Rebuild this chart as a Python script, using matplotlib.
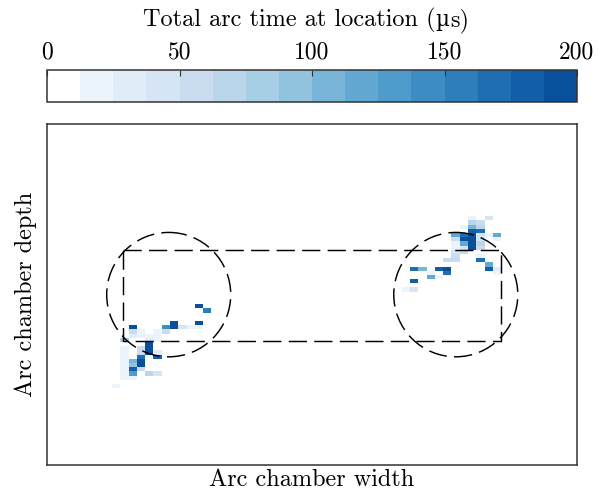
import numpy as np
import matplotlib
matplotlib.use("Agg")
import matplotlib.pyplot as plt
from matplotlib.colors import ListedColormap, BoundaryNorm
from matplotlib.patches import Ellipse, Rectangle
from matplotlib.offsetbox import TextArea, HPacker, AnchoredOffsetbox

plt.rcParams['font.family'] = ['cmr10', 'DejaVu Serif']
plt.rcParams['mathtext.fontset'] = 'cm'
plt.rcParams['axes.unicode_minus'] = False

# histogram grid (cells), column/row index of every non-empty cell and its arc time (us)
n_cols = 64
n_rows = 82
cell_cols = [18, 19, 18, 15, 15, 14, 16, 17, 18, 14, 13, 13, 13, 10, 10, 10, 11, 11,
             9, 12, 12, 12, 12, 12, 13, 13, 11, 11, 11, 11, 11, 10, 10, 10, 10,
             11, 12, 13, 9, 9, 9, 9, 9, 9, 9, 9, 10, 8,
             51, 53, 51, 52, 50, 51, 52, 51, 52, 49, 50, 51, 52, 53, 54,
             49, 50, 51, 52, 54, 49, 50, 51, 52, 49, 50, 51, 52, 49, 50, 49, 52,
             48, 49, 52, 53, 53, 54, 54,
             44, 45, 47, 48, 48, 46, 46, 47, 44, 43, 44]
cell_rows = [43, 44, 47, 47, 48, 48, 48, 48, 48, 49, 49, 50, 51, 48, 49, 50, 49, 50,
             51, 50, 51, 52, 53, 54, 55, 54, 53, 54, 55, 56, 57, 56, 57, 58, 59,
             58, 59, 59, 53, 54, 55, 56, 57, 58, 59, 60, 60, 62,
             22, 22, 23, 23, 24, 24, 24, 25, 25, 26, 26, 26, 26, 26, 26,
             27, 27, 27, 27, 27, 28, 28, 28, 28, 29, 29, 29, 29, 30, 30, 31, 31,
             32, 32, 32, 33, 34, 34, 35,
             34, 34, 34, 34, 35, 35, 36, 36, 37, 39, 39]
cell_vals = [190, 160, 190, 200, 200, 140, 40, 15, 20, 60, 20, 20, 15, 190, 60, 25, 15, 15,
             80, 15, 25, 200, 200, 190, 180, 30, 60, 60, 170, 200, 200, 100, 90, 180, 130,
             50, 70, 40, 15, 15, 15, 15, 15, 15, 15, 15, 15, 15,
             20, 40, 70, 50, 20, 110, 70, 180, 170, 120, 170, 200, 40, 15, 120,
             60, 190, 200, 40, 20, 15, 120, 200, 70, 15, 40, 200, 50, 40, 50, 60, 15,
             50, 60, 170, 120, 180, 30, 20,
             170, 100, 180, 190, 170, 15, 120, 15, 180, 20, 40]

# chamber outline (grid units)
rect_x = [9.36, 54.98]
rect_y = [29.98, 51.67]
circle_x = [14.85, 49.52]
circle_y = 40.7
circle_w = 14.98
circle_h = 29.67

levels = np.linspace(0, 200, 17)
colors = plt.get_cmap('Blues')(np.linspace(0, 0.875, 16))
colors[0] = [1, 1, 1, 1]
cmap = ListedColormap(colors)
norm = BoundaryNorm(levels, cmap.N)

grid = np.zeros((n_rows, n_cols))
for c, r, v in zip(cell_cols, cell_rows, cell_vals):
    grid[r, c] = v

fig = plt.figure(figsize=(6.11, 4.97), dpi=100)
ax = fig.add_axes([47 / 611, 1 - 465 / 497, 530 / 611, 341 / 497])
cax = fig.add_axes([47 / 611, 1 - 102 / 497, 530 / 611, 32 / 497])

mesh = ax.pcolormesh(np.arange(n_cols + 1), np.arange(n_rows + 1), grid, cmap=cmap, norm=norm)
ax.set_xlim(0.15, 0.15 + 530 / 8.28)
ax.set_ylim(340 / 4.18, 0)
ax.set_xticks([])
ax.set_yticks([])
for s in ax.spines.values():
    s.set_color('#333333')
    s.set_linewidth(1.1)

dash = (0, (12.5, 5))
ax.add_patch(Rectangle((rect_x[0], rect_y[0]), rect_x[1] - rect_x[0], rect_y[1] - rect_y[0],
                       fill=False, ec='black', lw=1.05, ls=dash))
for cx in circle_x:
    ax.add_patch(Ellipse((cx, circle_y), circle_w, circle_h, fill=False, ec='black', lw=1.05, ls=dash))

ax.set_xlabel('Arc chamber width', fontsize=17.5, labelpad=3)
ax.set_ylabel('Arc chamber depth', fontsize=17.5, labelpad=7)

cb = fig.colorbar(mesh, cax=cax, orientation='horizontal', ticks=[0, 50, 100, 150, 200])
cb.minorticks_off()
cb.outline.set_edgecolor('#333333')
cb.outline.set_linewidth(1.1)
cax.xaxis.set_ticks_position('top')
cax.tick_params(axis='x', direction='in', length=4, labelsize=17, pad=5, color='#333333')
cax.set_xticklabels(['0', '50', '100', '150', '200'])

# colorbar title, the micro sign taken from DejaVu Serif (cmr10 has none)
tp = dict(family='cmr10', size=17.5)
title = HPacker(children=[TextArea('Total arc time at location (', textprops=tp),
                          TextArea('µ', textprops=dict(family='DejaVu Serif', size=15.5)),
                          TextArea('s)', textprops=tp)],
                pad=0, sep=0, align='baseline')
fig.add_artist(AnchoredOffsetbox(loc='lower center', child=title, pad=0, borderpad=0, frameon=False,
                                 bbox_to_anchor=(306 / 611, 1 - 33 / 497),
                                 bbox_transform=fig.transFigure))

fig.savefig('out.png', dpi=100)
